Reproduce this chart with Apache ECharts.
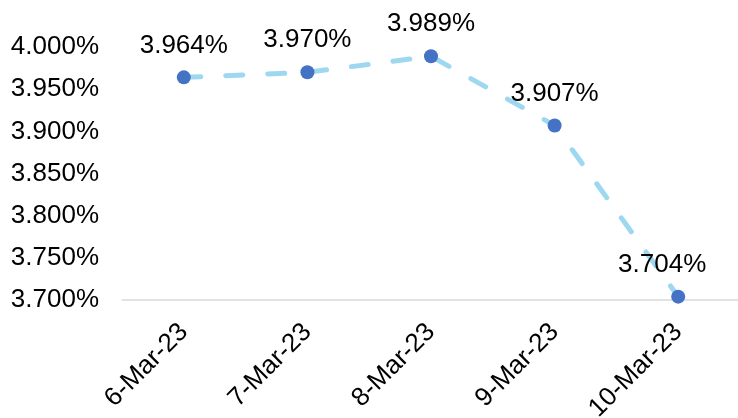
<!DOCTYPE html>
<html>
<head>
<meta charset="utf-8">
<style>
  html, body { margin: 0; padding: 0; background: #ffffff; }
  #chart { width: 738px; height: 418px; }
</style>
<script src="https://cdn.jsdelivr.net/npm/echarts@6/dist/echarts.min.js"></script>
</head>
<body>
<div id="chart"></div>
<script>
// Daily yield, in percent
const dates = ['6-Mar-23', '7-Mar-23', '8-Mar-23', '9-Mar-23', '10-Mar-23'];
const yields = [3.964, 3.970, 3.989, 3.907, 3.704];

const FONT = '"Liberation Sans", Arial, sans-serif';
const chart = echarts.init(document.getElementById('chart'));

const seriesData = yields.map((v, i) => {
  const item = { value: v };
  if (i === yields.length - 1) {
    item.label = { offset: [-16, 0] };
  }
  return item;
});

chart.setOption({
  backgroundColor: '#ffffff',
  animation: false,
  grid: {
    left: 122, top: 47, width: 618, bottom: 118,
    containLabel: false,
    outerBoundsMode: 'none'
  },
  xAxis: {
    type: 'category',
    data: dates,
    boundaryGap: true,
    axisLine: { lineStyle: { color: '#d9d9d9', width: 1.5 } },
    axisTick: { length: 7, lineStyle: { color: '#d9d9d9', width: 1.5 } },
    axisLabel: {
      rotate: 45,
      margin: 28,
      color: '#000000',
      fontFamily: FONT,
      fontSize: 26
    }
  },
  yAxis: {
    type: 'value',
    min: 3.7,
    max: 4.0,
    interval: 0.05,
    axisLine: { show: false },
    axisTick: { show: false },
    splitLine: { show: false },
    axisLabel: {
      margin: 23,
      color: '#000000',
      fontFamily: FONT,
      fontSize: 26,
      formatter: v => v.toFixed(3) + '%'
    }
  },
  series: [{
    type: 'line',
    data: seriesData,
    symbol: 'circle',
    symbolSize: 14,
    itemStyle: { color: '#4472c4' },
    lineStyle: {
      color: '#9dd8f0',
      width: 5,
      type: [17, 25],
      cap: 'round'
    },
    label: {
      show: true,
      position: 'top',
      distance: 12,
      color: '#000000',
      fontFamily: FONT,
      fontSize: 26,
      formatter: p => p.value.toFixed(3) + '%'
    },
    z: 3
  }]
});
</script>
</body>
</html>
